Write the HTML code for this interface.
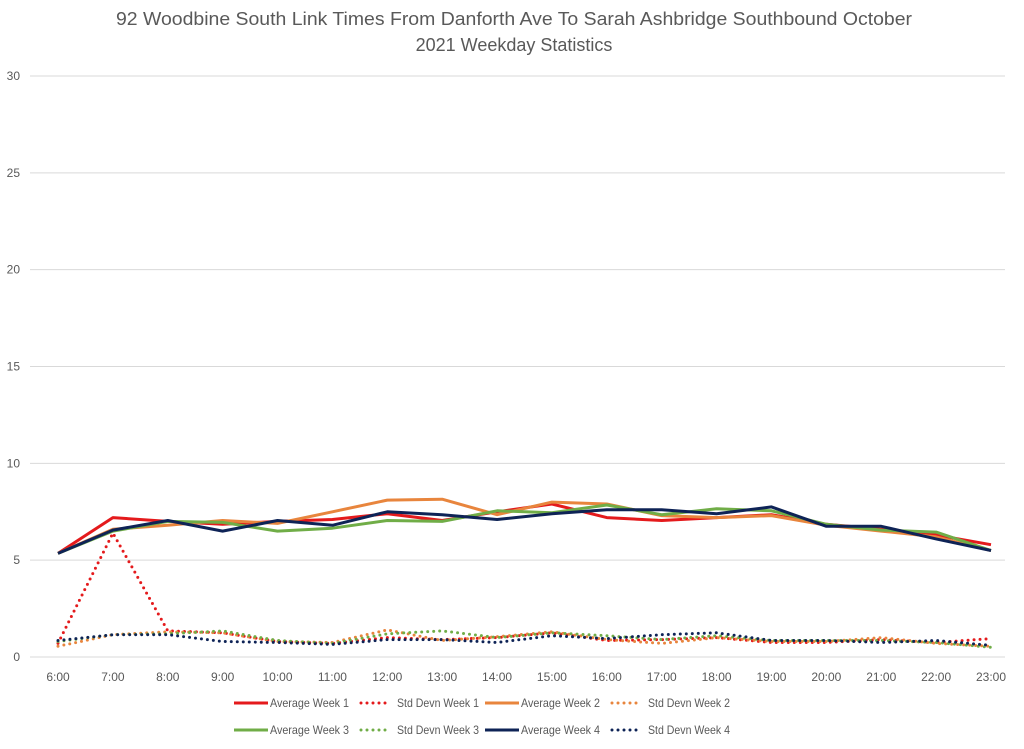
<!DOCTYPE html>
<html><head><meta charset="utf-8"><style>
body{margin:0;background:#fff;}
svg{display:block;font-family:"Liberation Sans",Calibri,sans-serif;}
</style></head><body>
<svg id="chart" width="1024" height="749" viewBox="0 0 1024 749">
<text x="514" y="25" text-anchor="middle" font-size="18" fill="#595959" textLength="796" lengthAdjust="spacingAndGlyphs">92 Woodbine South Link Times From Danforth Ave To Sarah Ashbridge Southbound October</text>
<text x="514" y="51" text-anchor="middle" font-size="18" fill="#595959">2021 Weekday Statistics</text>
<g id="grid"></g><g id="series"></g><g id="legend"></g>
</svg>
<script>
const categories=["6:00","7:00","8:00","9:00","10:00","11:00","12:00","13:00","14:00","15:00","16:00","17:00","18:00","19:00","20:00","21:00","22:00","23:00"];
const yTicks=[0,5,10,15,20,25,30];
const avgWeek1=[5.35,7.2,7.0,6.85,7.0,7.1,7.4,7.05,7.5,7.9,7.2,7.05,7.2,7.35,6.85,6.6,6.3,5.8];
const avgWeek2=[5.35,6.6,6.8,7.05,6.9,7.5,8.1,8.15,7.35,8.0,7.9,7.3,7.2,7.3,6.8,6.5,6.2,5.5];
const avgWeek3=[5.35,6.5,7.0,6.95,6.5,6.65,7.05,7.0,7.55,7.45,7.85,7.35,7.65,7.55,6.85,6.55,6.45,5.5];
const avgWeek4=[5.35,6.55,7.05,6.5,7.05,6.8,7.5,7.35,7.1,7.4,7.6,7.6,7.4,7.75,6.75,6.75,6.1,5.5];
const sdWeek1=[0.7,6.4,1.35,1.25,0.8,0.7,1.0,0.9,1.0,1.25,0.85,0.9,1.0,0.75,0.75,0.9,0.75,0.95];
const sdWeek2=[0.55,1.15,1.3,1.25,0.8,0.75,1.4,0.85,1.05,1.3,0.9,0.7,1.0,0.8,0.8,1.0,0.7,0.55];
const sdWeek3=[0.8,1.15,1.2,1.35,0.85,0.7,1.2,1.35,1.0,1.25,1.1,0.9,1.1,0.85,0.85,0.85,0.75,0.5];
const sdWeek4=[0.85,1.15,1.15,0.8,0.75,0.65,0.9,0.9,0.75,1.1,0.95,1.15,1.25,0.85,0.85,0.75,0.85,0.6];
const NS="http://www.w3.org/2000/svg";
const X0=58,XSTEP=(991-58)/17,Y0=657,YTOP=76;
function xs(i){return X0+i*XSTEP;}
function ys(v){return Y0-(v/30)*(Y0-YTOP);}
function mk(t,a,p){const e=document.createElementNS(NS,t);for(const k in a)e.setAttribute(k,a[k]);p.appendChild(e);return e;}
const grid=document.getElementById('grid');
yTicks.forEach(v=>{
  const l=mk('line',{x1:30,x2:1005,y1:ys(v),y2:ys(v),stroke:'#d9d9d9','stroke-width':1},grid);
  
  
  const t=mk('text',{x:20,y:ys(v)+4,'text-anchor':'end','font-size':12,fill:'#595959'},grid);
  t.textContent=v;
  
  
});
categories.forEach((c,i)=>{
  const t=mk('text',{x:xs(i),y:681,'text-anchor':'middle','font-size':12,fill:'#595959'},grid);
  t.textContent=c;
  
  
});
const series=[
 {name:'Average Week 1',data:avgWeek1,color:'#e41a1c',dash:false},
 {name:'Std Devn Week 1',data:sdWeek1,color:'#e41a1c',dash:true},
 {name:'Average Week 2',data:avgWeek2,color:'#e8853d',dash:false},
 {name:'Std Devn Week 2',data:sdWeek2,color:'#e8853d',dash:true},
 {name:'Average Week 3',data:avgWeek3,color:'#70ad47',dash:false},
 {name:'Std Devn Week 3',data:sdWeek3,color:'#70ad47',dash:true},
 {name:'Average Week 4',data:avgWeek4,color:'#0e2356',dash:false},
 {name:'Std Devn Week 4',data:sdWeek4,color:'#0e2356',dash:true}];
const sg=document.getElementById('series');
series.forEach(s=>{
  const pts=s.data.map((v,i)=>xs(i).toFixed(1)+','+ys(v).toFixed(1)).join(' ');
  const a={points:pts,fill:'none',stroke:s.color,'stroke-width':3,'stroke-linejoin':'round'};
  if(s.dash){a['stroke-dasharray']='0 6';a['stroke-linecap']='round';}
  const p=mk('polyline',a,sg);
  
  
});
const lg=document.getElementById('legend');
const lx=[232,357,483,608];
series.forEach((s,k)=>{
  const row=Math.floor(k/4),col=k%4,y=row?730:703,x=lx[col];
  const g=mk('g',{},lg);
  
  
  const a={x1:x+2,x2:x+36,y1:y,y2:y,stroke:s.color,'stroke-width':3};
  if(s.dash){a['stroke-dasharray']='0 6';a['stroke-linecap']='round';a.x1=x+4;a.x2=x+34;}
  mk('line',a,g);
  const t=mk('text',{x:s.dash?x+40:x+38,y:y+4,'font-size':12,fill:'#595959',textLength:s.dash?82:79,lengthAdjust:'spacingAndGlyphs'},g);
  t.textContent=s.name;
});
</script>
</body></html>
